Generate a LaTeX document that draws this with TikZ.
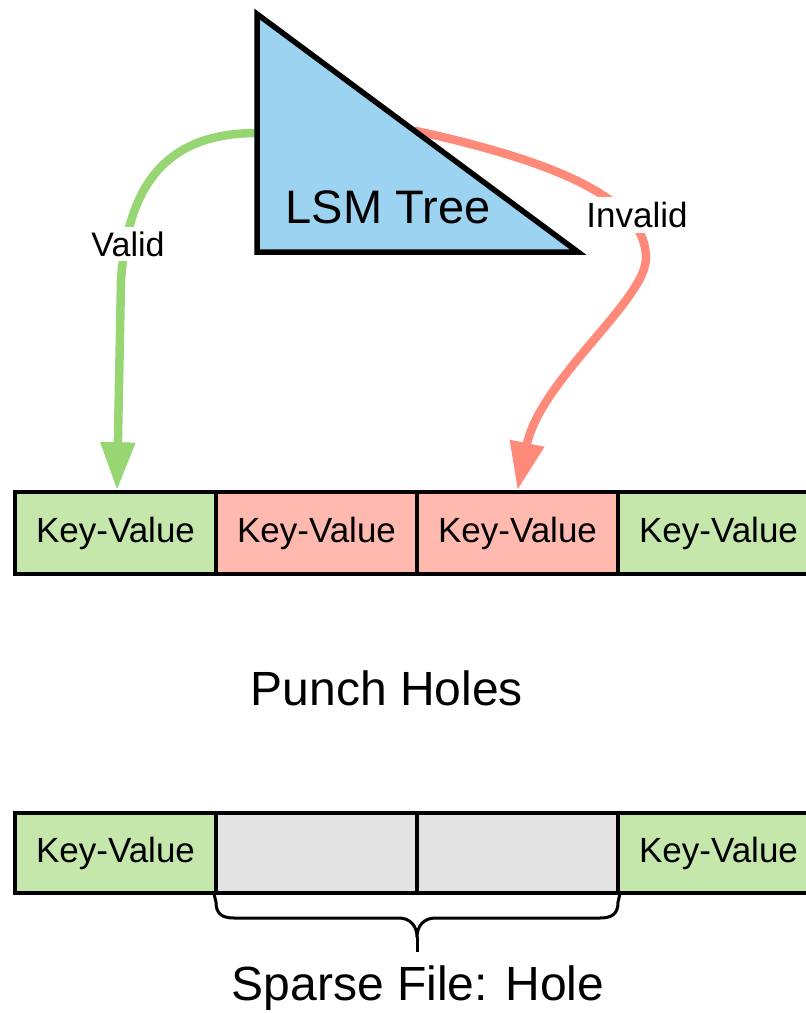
\documentclass[tikz,border=0pt]{standalone}
\usepackage{fontspec}
\setmainfont{Liberation Sans}
\usetikzlibrary{arrows.meta,calc}
\definecolor{kvgreen}{RGB}{197,231,171}
\definecolor{kvred}{RGB}{255,185,175}
\definecolor{kvgray}{RGB}{227,227,227}
\definecolor{treeblue}{RGB}{155,211,241}
\definecolor{okline}{RGB}{151,214,114}
\definecolor{badline}{RGB}{255,138,122}
\tikzset{
  cell/.style={draw=black, line width=3.5pt, minimum width=201pt, inner sep=0pt, font=\fontsize{35}{40}\selectfont},
  row1/.style={cell, minimum height=82pt},
  row2/.style={cell, minimum height=80pt},
  lbl/.style={fill=white, inner xsep=3pt, inner ysep=5pt, font=\fontsize{34}{40}\selectfont},
  bigtxt/.style={font=\fontsize{48}{56}\selectfont, inner sep=0pt},
  okarrow/.style={draw=okline, line width=8.5pt, -{Triangle[length=48pt,width=33pt]}},
  badarrow/.style={draw=badline, line width=8.5pt, -{Triangle[length=48pt,width=33pt]}},
}
\begin{document}
\begin{tikzpicture}[x=1pt, y=-1pt]
\useasboundingbox (0,0) rectangle (806,1013);
\clip (0,0) rectangle (806,1013);
% LSM tree triangle
\coordinate (tA) at (257,14);
\coordinate (tB) at (257,252);
\coordinate (tC) at (578,252);
\coordinate (gstart) at (257,133);
\coordinate (rstart) at ($(tA)!0.49!(tC)$);
% row 1
\node[row1, fill=kvgreen] (a1) at (115.5,533) {Key-Value};
\node[row1, fill=kvred]   (a2) at (316.5,533) {Key-Value};
\node[row1, fill=kvred]   (a3) at (517.5,533) {Key-Value};
\node[row1, fill=kvgreen] (a4) at (718.5,533) {Key-Value};
% arrows
\draw[okarrow] (gstart) .. controls (170,133) and (128,180) .. (121,280) -- (a1.north -| 117,0);
\draw[badarrow] (rstart) .. controls (540,158) and (646,195) .. (646,258)
   .. controls (646,300) and (540,380) .. (a3.north);
\draw[fill=treeblue, line width=5.5pt, line join=miter] (tA) -- (tB) -- (tC) -- cycle;
\node[bigtxt, font=\fontsize{47}{54}\selectfont] (lsm) at (388,207) {LSM Tree};
\node[lbl] (valid) at (128,244) {Valid};
\node[lbl, font=\fontsize{35}{40}\selectfont] (invalid) at (637,215) {Invalid};
% middle text
\node[bigtxt] (punch) at (387,688) {Punch Holes};
% row 2
\node[row2, fill=kvgreen] (b1) at (115.5,853) {Key-Value};
\node[row2, fill=kvgray]  (b2) at (316.5,853) {};
\node[row2, fill=kvgray]  (b3) at (517.5,853) {};
\node[row2, fill=kvgreen] (b4) at (718.5,853) {Key-Value};
% brace
\coordinate (btip) at (417,937);
\draw[line width=3pt, line join=round]
  (b2.south west) -- (216,902) .. controls (216,913) and (221,918) .. (234,918)
  -- (399,918) .. controls (410,918) and (417,926) .. (btip)
  .. controls (417,926) and (424,918) .. (435,918)
  -- (600,918) .. controls (613,918) and (618,913) .. (618,902)
  -- (b3.south east);
\draw[line width=3pt] (btip) -- (417,952);
\node[bigtxt] (sparse) at (418,988) {Sparse File: Hole};
\end{tikzpicture}
\end{document}
